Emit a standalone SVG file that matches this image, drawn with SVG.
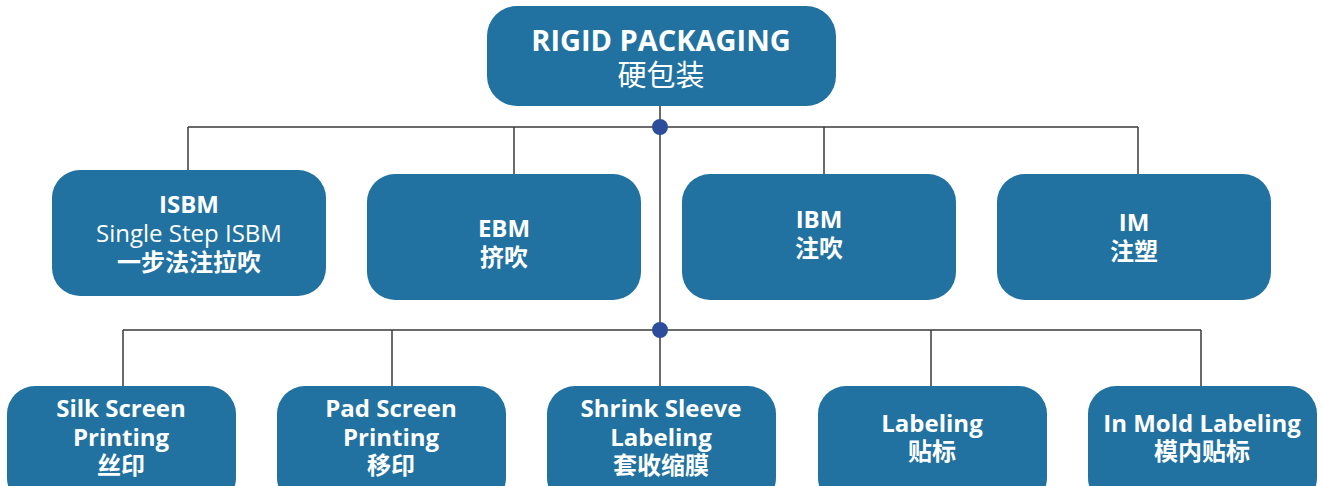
<svg xmlns="http://www.w3.org/2000/svg" width="1324" height="486" viewBox="0 0 1324 486">
<style>
.box{fill:#2172a1;}
.t{font-family:"Open Sans","Noto Sans CJK SC",sans-serif;fill:#ffffff;text-anchor:middle;font-size:24px;}
.big{font-size:29px;}
.b{font-weight:bold;}
.r{font-weight:normal;}
.line{stroke:#3a3a3a;stroke-width:1.5;fill:none;}
.dot{fill:#2d4c9c;}
</style>
<rect width="1324" height="486" fill="#ffffff"/>
<g id="connectors">
<path class="line" d="M660 106 V330 M188 127 H1138 M188 127 V170 M514 127 V174 M824 127 V174 M1138 127 V174"/>
<path class="line" d="M123 330 H1201 M123 330 V386 M392 330 V386 M660 330 V386 M931 330 V386 M1201 330 V386"/>
<circle class="dot" cx="660" cy="127" r="8"/>
<circle class="dot" cx="660" cy="330" r="8"/>
</g>
<g id="rigid">
<rect class="box" x="487" y="6" width="349" height="100" rx="30"/>
<text class="t b big" x="661" y="51">RIGID PACKAGING</text>
<text class="t r big" x="661" y="86">硬包装</text>
</g>
<g id="isbm">
<rect class="box" x="52" y="170" width="274" height="126" rx="28"/>
<text class="t b" x="189" y="213">ISBM</text>
<text class="t r" x="189" y="242">Single Step ISBM</text>
<text class="t b" x="189" y="271">一步法注拉吹</text>
</g>
<g id="ebm">
<rect class="box" x="367" y="174" width="274" height="126" rx="28"/>
<text class="t b" x="504" y="237">EBM</text>
<text class="t b" x="504" y="266">挤吹</text>
</g>
<g id="ibm">
<rect class="box" x="682" y="174" width="274" height="126" rx="28"/>
<text class="t b" x="819" y="228">IBM</text>
<text class="t b" x="819" y="257">注吹</text>
</g>
<g id="im">
<rect class="box" x="997" y="174" width="274" height="126" rx="28"/>
<text class="t b" x="1134" y="231">IM</text>
<text class="t b" x="1134" y="260">注塑</text>
</g>
<g id="silk">
<rect class="box" x="7" y="386" width="229" height="120" rx="28"/>
<text class="t b" x="121" y="417">Silk Screen</text>
<text class="t b" x="121" y="446">Printing</text>
<text class="t b" x="121" y="474">丝印</text>
</g>
<g id="pad">
<rect class="box" x="277" y="386" width="229" height="120" rx="28"/>
<text class="t b" x="391" y="417">Pad Screen</text>
<text class="t b" x="391" y="446">Printing</text>
<text class="t b" x="391" y="474">移印</text>
</g>
<g id="shrink">
<rect class="box" x="547" y="386" width="229" height="120" rx="28"/>
<text class="t b" x="661" y="417">Shrink Sleeve</text>
<text class="t b" x="661" y="446">Labeling</text>
<text class="t b" x="661" y="474">套收缩膜</text>
</g>
<g id="labeling">
<rect class="box" x="818" y="386" width="229" height="120" rx="28"/>
<text class="t b" x="932" y="432">Labeling</text>
<text class="t b" x="932" y="460">贴标</text>
</g>
<g id="inmold">
<rect class="box" x="1088" y="386" width="229" height="120" rx="28"/>
<text class="t b" x="1202" y="432">In Mold Labeling</text>
<text class="t b" x="1202" y="460">模内贴标</text>
</g>
</svg>
